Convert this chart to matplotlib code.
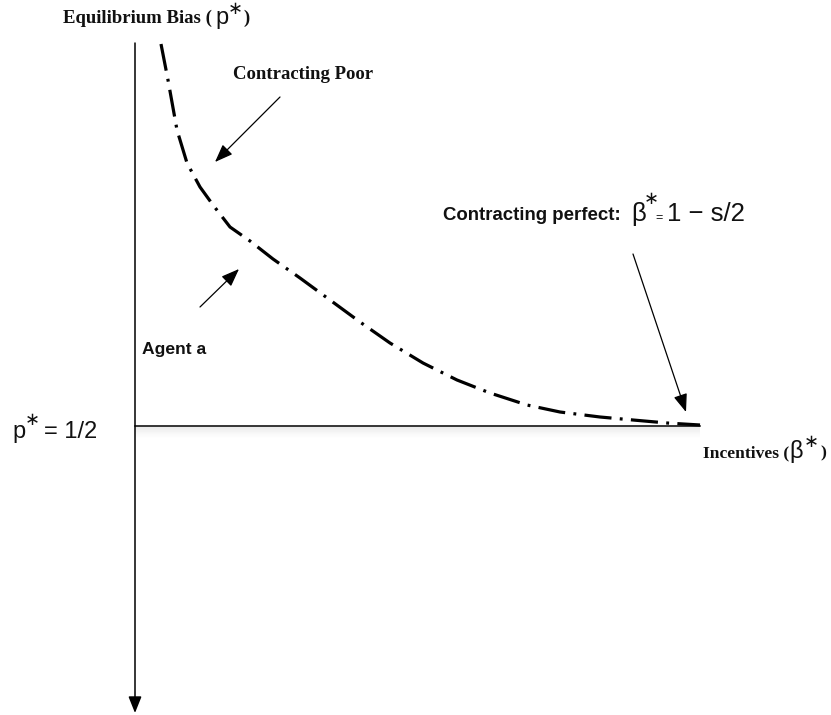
import matplotlib
matplotlib.use("Agg")
import matplotlib.pyplot as plt

# diagram drawn in a pixel-like frame (x right, y down), 831 x 715
W, H = 831, 715

# equilibrium bias curve
curve_x = [161, 168, 177, 187, 200, 213, 230, 250, 273, 300, 330, 360,
           390, 423, 457, 490, 527, 560, 600, 633, 667, 700]
curve_y = [44, 80, 130, 163, 187, 205, 227, 241, 259, 278, 300, 322,
           343, 363, 380, 393, 405, 412, 417, 420, 423, 425]

# axes
axis_x = 135
axis_top, axis_bottom = 43, 713
half_y = 426
half_right = 700

# pointer arrows: (start, end)
pointers = [((280, 97), (215, 162)),    # contracting poor
            ((200, 307), (239, 269)),   # agent a
            ((633, 254), (686, 412))]   # contracting perfect

SERIF = "Liberation Serif"
SANS = "Liberation Sans"
INK = "#111111"

fig = plt.figure(figsize=(W / 100, H / 100), dpi=100)
ax = fig.add_axes([0, 0, 1, 1])
ax.set_xlim(0, W)
ax.set_ylim(H, 0)
ax.axis("off")

# soft shadow under the p* = 1/2 line
for k in range(1, 12):
    ax.plot([axis_x, half_right], [half_y + k, half_y + k], color="#888888",
            lw=1.2, alpha=0.12 * (1 - k / 12) ** 1.3, solid_capstyle="butt")

ax.plot([axis_x, half_right], [half_y, half_y], color="black", lw=1.1)

# vertical axis with arrow at the bottom
ax.annotate("", xy=(axis_x, axis_bottom), xytext=(axis_x, axis_top),
            arrowprops=dict(arrowstyle="-|>,head_length=1.0,head_width=0.4",
                            lw=1.1, color="black", shrinkA=0, shrinkB=0,
                            mutation_scale=10))

# dash-dot curve
ax.plot(curve_x, curve_y, color="black", lw=2.3,
        linestyle=(0, (8.5, 2.6, 0.9, 2.6)), solid_capstyle="butt")

for (x0, y0), (x1, y1) in pointers:
    ax.annotate("", xy=(x1, y1), xytext=(x0, y0),
                arrowprops=dict(arrowstyle="-|>,head_length=1.1,head_width=0.42",
                                lw=0.9, color="black", shrinkA=0, shrinkB=0,
                                mutation_scale=10))

# labels
def put(x, y, s, fam, size, bold=False):
    ax.text(x, y, s, family=fam, fontsize=size, color=INK,
            fontweight="bold" if bold else "normal", va="baseline", ha="left")

def star(cx, cy):
    ax.text(cx, cy, "∗", family="DejaVu Sans", fontsize=13, color=INK,
            ha="center", va="center")

put(63, 23, "Equilibrium Bias (", SERIF, 13.5, True)
put(215, 24, "p", SANS, 17)
star(235, 9)
put(243, 23, ")", SERIF, 13.5, True)

put(233, 79, "Contracting Poor", SERIF, 13.5, True)

put(443, 220, "Contracting perfect:", SANS, 13.4, True)
put(631, 221, "β", SANS, 18.5)
star(651, 199)
put(655, 221, "=", SANS, 9)
put(667, 221, "1 − s/2", SANS, 18.5)

put(142, 354, "Agent a", SANS, 12.6, True)

put(12, 438, "p", SANS, 17)
star(32, 420)
put(44, 438, "= 1/2", SANS, 17)

put(703, 457, "Incentives (", SERIF, 12.6, True)
put(789, 458, "β", SANS, 17)
star(811, 442)
put(820, 457, ")", SERIF, 12.6, True)

fig.savefig("out.png", dpi=100, facecolor="white")
